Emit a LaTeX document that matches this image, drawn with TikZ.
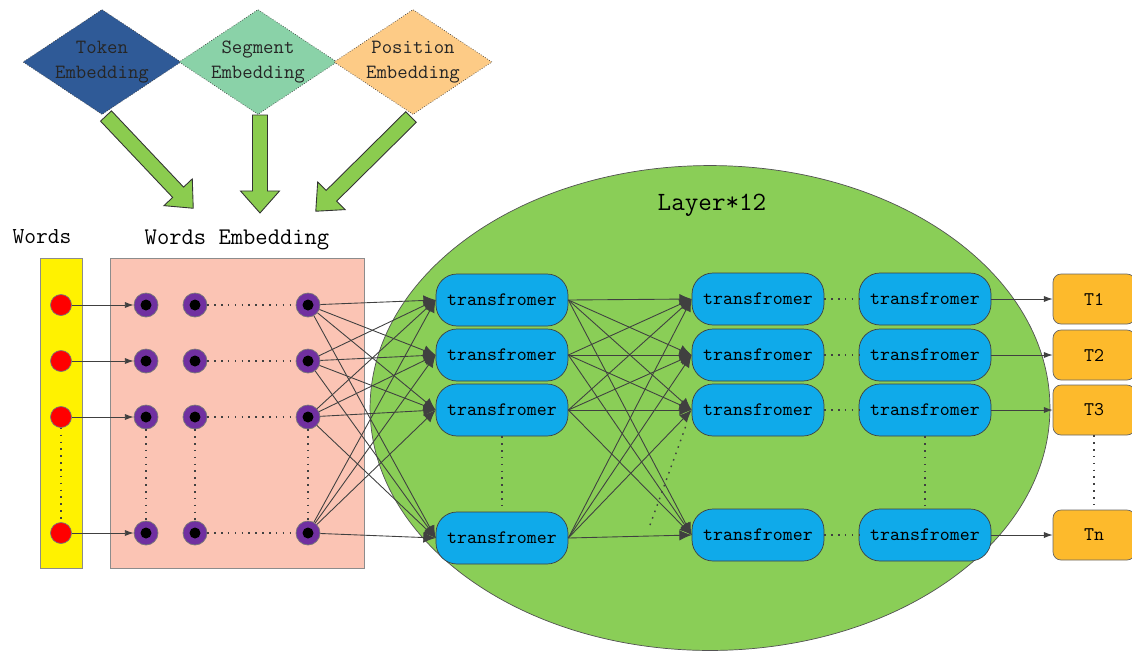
\documentclass[tikz,border=0pt]{standalone}
\usetikzlibrary{shapes.geometric,arrows.meta}
\definecolor{tokblue}{HTML}{2F5A97}
\definecolor{segcol}{HTML}{8AD2A8}
\definecolor{poscol}{HTML}{FDCB86}
\definecolor{arrgreen}{HTML}{8BCC4F}
\definecolor{ellgreen}{HTML}{8ACE57}
\definecolor{embpink}{HTML}{FBC4B4}
\definecolor{embpurple}{HTML}{7030A0}
\definecolor{transblue}{HTML}{0FAAEA}
\definecolor{outorange}{HTML}{FDBA2C}
\definecolor{edgegray}{HTML}{404040}
\begin{document}
\begin{tikzpicture}[x=0.02cm, y=-0.02cm, font=\ttfamily,
    embed/.style={diamond, draw=edgegray, densely dotted, aspect=1.5, minimum width=3.16cm, minimum height=2.1cm, inner sep=0pt, align=center, font=\ttfamily\fontsize{11.5}{14}\selectfont, text=black!85},
    blockarrow/.style={draw=edgegray!80!black, fill=arrgreen, line width=0.5pt},
    word/.style={circle, draw=edgegray!70, fill=red, minimum size=0.42cm, inner sep=0pt},
    emb/.style={circle, draw=edgegray!70, fill=embpurple, minimum size=0.48cm, inner sep=0pt,
        path picture={\fill[black] (path picture bounding box.center) circle (0.11cm);}},
    trans/.style={draw=edgegray, fill=transblue, rounded corners=0.42cm, minimum width=2.64cm, minimum height=1.04cm, inner sep=0pt, font=\ttfamily\fontsize{10.8}{12}\selectfont},
    outbox/.style={draw=edgegray!80, fill=outorange, rounded corners=0.16cm, minimum width=1.64cm, minimum height=1.0cm, inner sep=0pt, font=\ttfamily\fontsize{11}{12}\selectfont},
    link/.style={draw=edgegray, line width=0.5pt},
    dots/.style={draw=edgegray, dash pattern=on 0.9pt off 3pt, line width=0.8pt},
    bigtip/.style={-{Latex[length=7pt,width=6pt]}},
    smalltip/.style={-{Latex[length=5pt,width=3.5pt]}}]
    \useasboundingbox (0,0) rectangle (1132,653);
    \clip (0,0) rectangle (1132,653);

    % Embedding diamonds
    \node[embed, fill=tokblue] (tok) at (102,62) {Token\\Embedding};
    \node[embed, fill=segcol] (seg) at (258,62) {Segment\\Embedding};
    \node[embed, fill=poscol] (pos) at (413,62) {Position\\Embedding};

    % Block arrows
    \foreach \sx/\sy/\ang/\len in {106/116/-46.6/2.54, 260/115/-90/1.96, 411/117/-135.3/2.68} {
        \begin{scope}[shift={(\sx,\sy)}, rotate=\ang, x=1cm, y=1cm]
            \draw[blockarrow] (0,-0.15) -- (\len-0.44,-0.15) -- (\len-0.44,-0.39) -- (\len,0)
                -- (\len-0.44,0.39) -- (\len-0.44,0.15) -- (0,0.15) -- cycle;
        \end{scope}
    }

    % Words and words embedding
    \node[font=\ttfamily\fontsize{13}{14}\selectfont] (wlabel) at (42,237) {Words};
    \node[font=\ttfamily\fontsize{13.6}{15}\selectfont] (elabel) at (237,240) {Words Embedding};
    \node[draw=edgegray!60, fill=yellow, minimum width=0.84cm, minimum height=6.2cm, inner sep=0pt] (wbar) at (61,413) {};
    \node[draw=edgegray!60, fill=embpink, minimum width=5.08cm, minimum height=6.2cm, inner sep=0pt] (ebox) at (237,413) {};

    % Layers
    \node[draw=edgegray!90, fill=ellgreen, ellipse, minimum width=13.6cm, minimum height=9.7cm, inner sep=0pt] (layer) at (710,408) {};
    \node[font=\ttfamily\fontsize{15}{16}\selectfont] (lname) at (712,205) {Layer*12};

    \foreach \r/\y in {1/305, 2/361, 3/417, 4/533} {
        \node[word] (w\r) at (61,\y) {};
        \node[emb] (ea\r) at (146,\y) {};
        \node[emb] (eb\r) at (195,\y) {};
        \node[emb] (ec\r) at (308,\y) {};
        \draw[link, smalltip] (w\r) -- (ea\r);
        \draw[dots] (eb\r) -- (ec\r);
    }
    \foreach \r/\y in {1/300, 2/355, 3/410, 4/538}
        \node[trans] (A\r) at (502,\y) {transfromer};
    \foreach \r/\y in {1/299, 2/355, 3/410, 4/535} {
        \node[trans] (B\r) at (758,\y) {transfromer};
        \node[trans] (C\r) at (925,\y) {transfromer};
        \node[outbox] (T\r) at (1094,\y) {T\ifnum\r=4 n\else\r\fi};
        \draw[dots] (B\r) -- (C\r);
        \draw[link, smalltip] (C\r) -- (T\r);
    }

    % Full connections
    \foreach \i in {1,...,4}
        \foreach \j in {1,...,4} {
            \draw[link, bigtip] (ec\i) -- (A\j.west);
            \draw[link, bigtip] (A\i.east) -- (B\j.west);
        }

    % Vertical dots
    \foreach \n in {w, ea, eb, ec, A, C, T}
        \draw[dots] (\n3) -- (\n4);
    \coordinate (gap) at (650,525);
    \draw[dots, shorten >=8pt] (gap) -- (B3.west);
\end{tikzpicture}
\end{document}
